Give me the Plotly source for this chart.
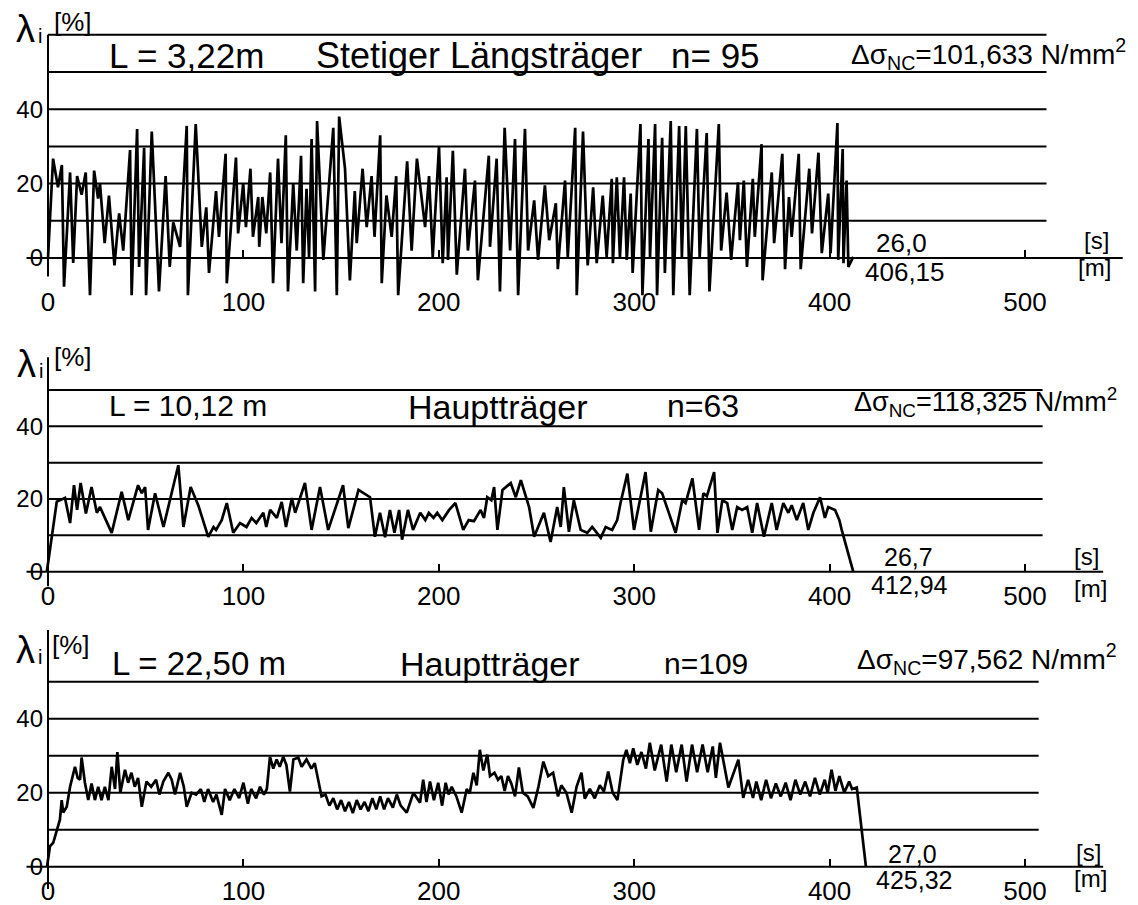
import plotly.graph_objects as go

W, H = 1138, 905          # browser window
OX, OY = 8, 8             # default page (body) margin of the html page
FW, FH = W - OX, H - OY   # figure size so that it fills the window exactly
FONT = "Liberation Sans, Arial, DejaVu Sans, sans-serif"

# ---------------- data ----------------
# Panel 1: L = 3,22 m, Stetiger Längsträger
p1_x = [
    0, 1.5, 2.6, 5.1, 7.1, 8.2, 11.3, 12.9, 14.9, 17.2,
    19.3, 21.5, 23.6, 25.6, 26.6, 29, 31.2, 34, 36.4, 38.5,
    42, 42.8, 45.6, 46.6, 49.2, 50.2, 53.1, 56.8, 60.2, 62.3,
    64.1, 67.6, 71, 71.6, 75.6, 78.7, 81, 82.4, 86, 87.5,
    90.9, 91.5, 96.2, 97.3, 99.9, 101.3, 103.6, 104.9, 107.6, 108.1,
    109.7, 111.7, 113.7, 115.2, 117.7, 119.5, 121.7, 122.8, 125.5, 127.3,
    129.5, 130.6, 132.3, 133.6, 134.9, 136.7, 137.7, 140.9, 146, 147.8,
    149, 152, 154.5, 157, 158, 161, 163.1, 165.6, 167.1, 170,
    170.8, 173.2, 175.9, 178.2, 179.2, 183.8, 186.1, 188.8, 193, 195,
    196.9, 200.1, 202, 204, 204.7, 207.2, 209.2, 213.4, 214.9, 218.5,
    220, 225.6, 226.2, 229.6, 231.3, 233.7, 236.5, 239, 240.6, 244.1,
    245.7, 248.8, 250.8, 254.3, 256.5, 259.9, 260.9, 264.6, 266, 269.8,
    270.6, 273.8, 276.2, 279, 280.8, 283.9, 285.9, 288.5, 289.1, 291.1,
    292.7, 294.8, 296.2, 298.2, 299.2, 303.2, 304.2, 307.3, 308.1, 310.7,
    311.7, 314.3, 315.7, 318.7, 320, 323, 324.4, 326.4, 328.4, 332.1,
    333.5, 337.1, 338.5, 343.3, 344.5, 347.3, 349.6, 353.1, 354.1, 356.1,
    357.7, 360.7, 361.7, 365.2, 365.7, 370.4, 371.6, 375.8, 377.2, 379.2,
    380.6, 384.2, 385.2, 389.6, 391, 394.3, 396, 399.3, 400.5, 404,
    404.4, 406.7, 407.1, 408.7, 409.6, 412.1]
p1_y = [
    0, 18, 26.7, 19, 25, -7.7, 23, -1.3, 22, 17,
    23, -10, 23.5, 16, 20, 4, 16.8, -2, 12, 2,
    29, -10, 34.7, -2.4, 29.6, -10, 34, -9, 22, -2.4,
    9.6, 3, 35.5, -10, 36, 3, 13.6, -4, 18, 5.7,
    28, -6.8, 27, 6.6, 20, 8.3, 24, 5.7, 16.4, 3,
    16.4, 6.6, 23, -6.8, 26.7, 4, 33, -9, 20, 2,
    27.5, -6.8, 18.6, 0.3, 32, -9, 36.8, -0.5, 35, -10,
    38, 24, -6, 18, 4, 24, 8.3, 22, 5.7, 33,
    -6.8, 16.8, 5.7, 22, -10, 26, 2, 26.7, 8.3, 22,
    0.3, 30, -1.4, 21.7, -0.5, 28.8, -4.5, 24, 2, 20.8,
    -6, 27.5, 3, 26.7, -9, 35, 2, 32, -10, 34.7,
    2, 15.5, -0.5, 19.5, 4.8, 14.7, -3, 20.8, 0.3, 35,
    -10, 34, -2, 19, -1.4, 16.8, 0.3, 21.3, -1.4, 21.7,
    0.3, 21.7, -0.5, 17.3, -4, 36, -10, 32, 0.3, 36,
    -10, 32.3, -4, 36.8, -10, 35.5, 0.3, 35.5, -10, 34.7,
    0.3, 33.6, -9, 36, 2, 17.6, -0.5, 20.3, 4.8, 20.8,
    -2.4, 21.3, 5.7, 30.6, -6, 23, 4, 28, -3, 16.4,
    5.7, 28, -3, 24, 6.6, 28.3, 1.3, 17.3, 1.3, 36.3,
    -0.5, 29.3, -1.4, 20.8, -2.4, 0.3]

# Panel 2: L = 10,12 m, Hauptträger
p2_x = [
    -0.6, 1.9, 4.5, 8.7, 11.3, 13.3, 14.9, 16.7, 19.4, 22.3,
    25, 26.6, 32.6, 37.7, 41.1, 46.1, 48, 49.7, 51.2, 54.8,
    59.1, 66.7, 69.3, 73, 76.9, 82, 84.7, 86, 88.9, 91.5,
    94.8, 98.3, 101.6, 104.2, 106.6, 110.2, 111.7, 113.7, 117.1, 119.6,
    121.8, 124.8, 126.5, 131.5, 134.9, 139.2, 143.4, 151, 153.7, 158.9,
    164.8, 167.3, 169.9, 172.5, 175, 177.3, 179.7, 181.2, 184.2, 186.8,
    190.5, 193.1, 194.9, 197.3, 199.2, 201.8, 205.3, 208.5, 212.5, 215.3,
    218, 221.4, 223.1, 224.8, 226.9, 228.3, 230, 232.6, 236.8, 239.4,
    242, 246.2, 248.8, 253.8, 255.4, 257.2, 260.6, 262.4, 264, 266.6,
    269.1, 272.6, 276, 278.5, 282.9, 285.4, 288.7, 291.3, 293, 296.5,
    299.9, 305.8, 308.5, 312.3, 314.3, 321.2, 324.6, 326.3, 329.8, 333.2,
    335.4, 337.2, 340.9, 342.6, 345.1, 347.6, 350.2, 352.7, 355.2, 357.8,
    360.4, 362.9, 366.4, 370.4, 372.9, 376.3, 378.9, 380.6, 383.2, 386.5,
    389.1, 391.7, 395.1, 397.6, 399.3, 402.8, 405, 406.2, 412.1]
p2_y = [
    0, 8.8, 19.3, 20.3, 13.4, 23.8, 17, 24.4, 16, 23.3,
    16.2, 17.8, 10.7, 22, 14.2, 23.8, 21.6, 23.3, 11.5, 21.6,
    12.3, 29.3, 12.3, 23.3, 18.3, 9.6, 12.3, 11.5, 14.2, 18.9,
    10.7, 13.4, 12.3, 14.8, 13.4, 16.2, 12.3, 17, 14.8, 19.2,
    12.3, 20.3, 16.2, 24.4, 11.5, 23.3, 11.5, 23.8, 12, 22.5,
    20.5, 9.6, 16.2, 9.5, 17, 10.7, 17, 8.8, 17, 11.5,
    16.2, 14.2, 16.2, 14.8, 16.2, 14.2, 17, 18.9, 11.5, 14.2,
    13.9, 17, 14.8, 20.5, 19.7, 23.3, 11.5, 22.5, 24.4, 20.5,
    25.2, 17.8, 9.6, 16.2, 12.3, 8.2, 17.8, 12.3, 23.3, 11,
    19.7, 11.5, 10.7, 12.3, 9.3, 12.3, 11.5, 14.2, 18.9, 27,
    11.5, 27.4, 11, 22.5, 21.6, 10.7, 19.7, 18.9, 25.7, 11.5,
    21.6, 20.8, 27.4, 10.7, 19.7, 18.9, 11.5, 17.8, 17, 17.8,
    10.7, 18.9, 9.6, 18.9, 11.5, 18.9, 16.2, 18.3, 14.2, 18.9,
    11.5, 16.2, 20.5, 14.8, 17.8, 17, 14.2, 11.5, 0]

# Panel 3: L = 22,50 m, Hauptträger
p3_x = [
    -0.5, 1, 2.7, 4.4, 6.1, 7, 7.8, 9.6, 11.3, 13.8,
    15.2, 16.4, 17.2, 18.9, 20.6, 22.3, 24, 25.7, 27.4, 29.1,
    30.9, 32.6, 34.3, 35.5, 37, 39.4, 41, 42.7, 44.4, 46.1,
    48, 50.4, 52.8, 55.3, 57, 59, 61.6, 63.3, 65, 67.6,
    69.5, 71, 73.5, 75.8, 78.2, 80, 81.9, 84.5, 86.2, 88.9,
    90.6, 93, 95.4, 97.8, 100, 102.3, 104, 106.5, 108.5, 110.5,
    112, 113.6, 115.3, 117, 118.6, 120.4, 122, 123.8, 125.6, 128.1,
    129.8, 132.3, 134.8, 136.5, 138.3, 140, 142, 144, 146, 148,
    150, 152, 154, 156, 158, 160, 162, 164, 166, 168,
    170, 172, 174, 176.5, 178.5, 180.5, 183.6, 187, 190.4, 192,
    193.7, 195.5, 197.5, 199.7, 201.7, 203.5, 205, 206.6, 209, 211.7,
    214.3, 215.8, 217.7, 219.4, 221, 222.8, 224.8, 226.2, 228.5, 230.3,
    232, 233.7, 235.4, 237.1, 239, 241, 243, 245.5, 248.4, 251,
    253.5, 256, 258.5, 261, 262.7, 265.3, 268, 270.5, 273, 274.7,
    277.3, 279.8, 282.4, 284.5, 286.7, 289, 291.4, 294.4, 296, 297.8,
    299.5, 301.6, 303.7, 306, 308, 310.5, 313.8, 316.6, 319, 321.5,
    324.3, 326.8, 329.6, 332.2, 335, 337.6, 340.2, 341.8, 343.9, 348.2,
    353.3, 355.8, 358.3, 360.8, 362.5, 365, 367.5, 370, 372.5, 375,
    377.5, 380, 382.5, 385, 387.5, 390, 392.5, 395, 397.5, 399,
    401, 403, 405, 407.5, 410, 411.5, 413.9, 418.6]
p3_y = [
    0, 5.5, 6.5, 10, 12.7, 18, 14.6, 16.2, 21.6, 27,
    24, 23.5, 29.5, 22.7, 18, 22.5, 18, 21.6, 18, 21.6,
    18, 27, 21, 31, 20, 26.2, 22.7, 25.4, 21.6, 24,
    16.2, 23, 21.6, 23.5, 19.5, 23, 25.4, 23.5, 19.5, 25.4,
    21.6, 16.2, 20, 19.5, 21, 17.5, 21, 17.5, 19.5, 14,
    21, 18, 21, 18.5, 22.7, 17, 21, 18.5, 21.6, 19.5,
    21, 29.7, 26.5, 29, 27, 29.7, 27.5, 20.3, 29, 29.5,
    27, 29, 26.5, 28, 23.5, 19, 19.5, 16.5, 18.5, 15.5,
    18, 15, 17.5, 14.5, 18, 15.5, 17.5, 15, 18.5, 15.5,
    19, 15.5, 18.5, 16, 19.5, 16.5, 14.6, 20, 17.3, 23.5,
    17.5, 23, 18, 22.7, 16.5, 22.7, 19.5, 21.6, 19, 14.6,
    21, 19.8, 25.4, 22, 31.6, 26, 30.3, 24.5, 25.4, 23.5,
    24.5, 20.5, 24.5, 22.5, 19, 26.8, 20, 19, 15.9, 21.6,
    28.4, 24.5, 25.4, 19, 22, 20, 14.6, 21.6, 25.4, 18.4,
    21, 18.5, 22, 20.3, 25.7, 20, 18, 28.9, 31.6, 28,
    32, 27.5, 31, 26.5, 33.5, 26, 33, 23, 33, 25.5,
    33, 23, 33, 25.5, 33, 25.5, 32.5, 24, 33.5, 21.4,
    28.9, 18.6, 23.5, 18.6, 23, 18, 23.5, 18.5, 22.5, 19,
    22.7, 18, 23.5, 19.5, 23, 19, 24, 19.5, 23.5, 20,
    26.2, 20.5, 24.5, 20, 23, 21, 21.4, 0]

x_ticks = [0, 100, 200, 300, 400, 500]
y_ticks = [0, 20, 40]
grid_p1 = [10, 20, 30, 40, 50, 60]
grid_p23 = [10, 20, 30, 40, 50]

# ---------------- layout helpers (screen pixels -> paper) ----------------
def xpaper(px):
    return (px - OX) / FW

def ypaper(py):
    return 1 - (py - OY) / FH

# x scale: value 0 at screen px 48, 1.954 px per unit
X0_PX, X_SLOPE = 48, 1.954
X_RANGE = [(OX - X0_PX) / X_SLOPE, (W - X0_PX) / X_SLOPE]

panels = [
    dict(x=p1_x, y=p1_y, grid=grid_p1, top=10, bottom=312, base_py=258, slope=3.72,
         grid_end=511, base_start=-11, base_end=550, yline=[-5, 60], standoff=26),
    dict(x=p2_x, y=p2_y, grid=grid_p23, top=340, bottom=610, base_py=571.7, slope=3.634,
         grid_end=509, base_start=-11, base_end=540, yline=[-4, 59], standoff=6),
    dict(x=p3_x, y=p3_y, grid=grid_p23, top=625, bottom=905, base_py=866.7, slope=3.7,
         grid_end=507, base_start=-11, base_end=540, yline=[-6, 64], standoff=6),
]

fig = go.Figure()
shapes = []
layout = dict(
    width=FW, height=FH, margin=dict(l=0, r=0, t=0, b=0),
    paper_bgcolor="white", plot_bgcolor="white", showlegend=False,
    font=dict(family=FONT, color="black"),
)

for i, p in enumerate(panels):
    n = "" if i == 0 else str(i + 1)
    xa, ya = "x" + n, "y" + n
    fig.add_trace(go.Scatter(x=p["x"], y=p["y"], xaxis=xa, yaxis=ya, mode="lines",
                             line=dict(color="black", width=2.7), hoverinfo="skip"))
    yr = [(p["base_py"] - p["bottom"]) / p["slope"], (p["base_py"] - p["top"]) / p["slope"]]
    layout["xaxis" + n] = dict(
        domain=[0, 1], range=X_RANGE, anchor="free", position=ypaper(p["base_py"]),
        tickvals=x_ticks, ticktext=[str(t) for t in x_ticks], ticks="inside", ticklen=8,
        tickwidth=2, tickcolor="black", showline=False, showgrid=False, zeroline=False,
        ticklabelstandoff=p["standoff"], tickfont=dict(size=26, family=FONT, color="black"),
    )
    layout["yaxis" + n] = dict(
        domain=[ypaper(p["bottom"]), ypaper(p["top"])], range=yr, anchor="free",
        position=xpaper(X0_PX),
        tickvals=y_ticks, ticktext=[str(t) for t in y_ticks], ticks="", showline=False,
        showgrid=False, zeroline=False, ticklabelstandoff=5,
        tickfont=dict(size=24, family=FONT, color="black"),
    )
    for g in p["grid"]:
        shapes.append(dict(type="line", xref=xa, yref=ya, x0=0, x1=p["grid_end"], y0=g, y1=g,
                           line=dict(color="black", width=2)))
    shapes.append(dict(type="line", xref=xa, yref=ya, x0=p["base_start"], x1=p["base_end"],
                       y0=0, y1=0, line=dict(color="black", width=2)))
    shapes.append(dict(type="line", xref=xa, yref=ya, x0=0, x1=0, y0=p["yline"][0],
                       y1=p["yline"][1], line=dict(color="black", width=2)))

layout["shapes"] = shapes

texts = [
    # panel 1
    ("λ", 25, 29, 38), ("i", 40, 36, 20), ("[%]", 73, 22, 26),
    ("L = 3,22m", 186, 55, 35), ("Stetiger Längsträger", 479, 55, 36), ("n= 95", 715, 55, 35),
    ("Δσ<sub>NC</sub>=101,633 N/mm<sup>2</sup>", 988, 54, 28),
    ("26,0", 901, 243, 26), ("406,15", 905, 272, 26), ("[s]", 1096, 241, 24), ("[m]", 1094, 268, 24),
    # panel 2
    ("λ", 26, 364, 38), ("i", 41, 371, 20), ("[%]", 73, 357, 26),
    ("L = 10,12 m", 188, 405, 30), ("Hauptträger", 498, 407, 34), ("n=63", 703, 406, 32),
    ("Δσ<sub>NC</sub>=118,325 N/mm<sup>2</sup>", 985, 402, 27),
    ("26,7", 908, 557, 25), ("412,94", 909, 585, 25), ("[s]", 1086, 556, 24), ("[m]", 1090, 588, 24),
    # panel 3
    ("λ", 25, 650, 38), ("i", 40, 657, 20), ("[%]", 71, 645, 26),
    ("L = 22,50 m", 199, 663, 33), ("Hauptträger", 490, 664, 34), ("n=109", 706, 663, 30),
    ("Δσ<sub>NC</sub>=97,562 N/mm<sup>2</sup>", 987, 659, 28),
    ("27,0", 912, 854, 25), ("425,32", 914, 880, 25), ("[s]", 1088, 852, 24), ("[m]", 1090, 878, 24),
]
annotations = []
for t, px, py, s in texts:
    annotations.append(dict(text=t, x=xpaper(px), y=ypaper(py), xref="paper", yref="paper",
                            xanchor="center", yanchor="middle", showarrow=False,
                            font=dict(size=s, family=FONT, color="black")))
layout["annotations"] = annotations

fig.update_layout(**layout)
fig.write_html("out.html")
